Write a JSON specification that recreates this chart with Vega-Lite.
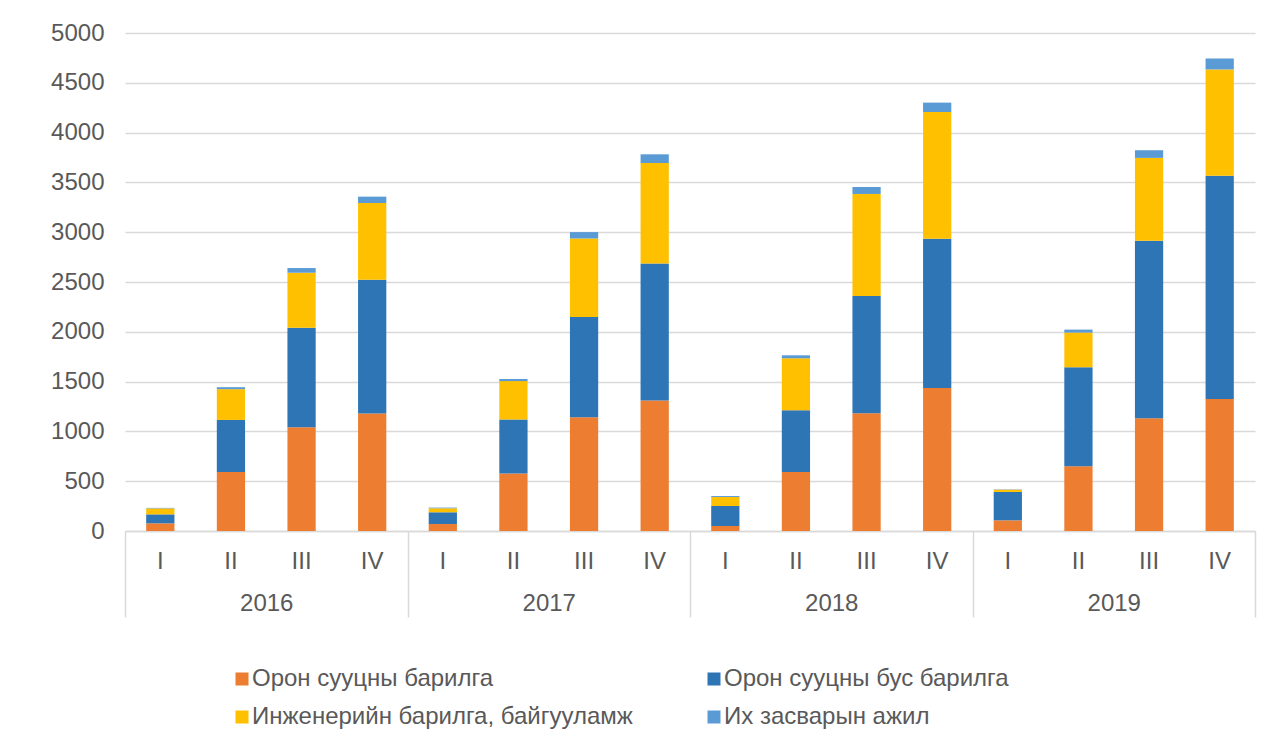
{
  "$schema": "https://vega.github.io/schema/vega-lite/v6.json",
  "autosize": {"type": "none"},
  "width": 1130,
  "height": 498,
  "padding": {"left": 125, "top": 33, "right": 17, "bottom": 221},
  "background": "white",
  "config": {
    "font": "Liberation Sans",
    "view": {"stroke": null},
    "axis": {"labelFont": "Liberation Sans", "labelColor": "#595959", "labelFontSize": 24}
  },
  "data": {
    "values": [
      {"key": "2016 I", "year": "2016", "k": 1, "type": "Орон сууцны барилга", "value": 77},
      {"key": "2016 I", "year": "2016", "k": 2, "type": "Орон сууцны бус барилга", "value": 90},
      {"key": "2016 I", "year": "2016", "k": 3, "type": "Инженерийн барилга, байгууламж", "value": 60},
      {"key": "2016 I", "year": "2016", "k": 4, "type": "Их засварын ажил", "value": 5},
      {"key": "2016 II", "year": "2016", "k": 1, "type": "Орон сууцны барилга", "value": 593},
      {"key": "2016 II", "year": "2016", "k": 2, "type": "Орон сууцны бус барилга", "value": 522},
      {"key": "2016 II", "year": "2016", "k": 3, "type": "Инженерийн барилга, байгууламж", "value": 309},
      {"key": "2016 II", "year": "2016", "k": 4, "type": "Их засварын ажил", "value": 20},
      {"key": "2016 III", "year": "2016", "k": 1, "type": "Орон сууцны барилга", "value": 1042},
      {"key": "2016 III", "year": "2016", "k": 2, "type": "Орон сууцны бус барилга", "value": 998},
      {"key": "2016 III", "year": "2016", "k": 3, "type": "Инженерийн барилга, байгууламж", "value": 553},
      {"key": "2016 III", "year": "2016", "k": 4, "type": "Их засварын ажил", "value": 47},
      {"key": "2016 IV", "year": "2016", "k": 1, "type": "Орон сууцны барилга", "value": 1179},
      {"key": "2016 IV", "year": "2016", "k": 2, "type": "Орон сууцны бус барилга", "value": 1344},
      {"key": "2016 IV", "year": "2016", "k": 3, "type": "Инженерийн барилга, байгууламж", "value": 770},
      {"key": "2016 IV", "year": "2016", "k": 4, "type": "Их засварын ажил", "value": 64},
      {"key": "2017 I", "year": "2017", "k": 1, "type": "Орон сууцны барилга", "value": 70},
      {"key": "2017 I", "year": "2017", "k": 2, "type": "Орон сууцны бус барилга", "value": 118},
      {"key": "2017 I", "year": "2017", "k": 3, "type": "Инженерийн барилга, байгууламж", "value": 40},
      {"key": "2017 I", "year": "2017", "k": 4, "type": "Их засварын ажил", "value": 7},
      {"key": "2017 II", "year": "2017", "k": 1, "type": "Орон сууцны барилга", "value": 577},
      {"key": "2017 II", "year": "2017", "k": 2, "type": "Орон сууцны бус барилга", "value": 543},
      {"key": "2017 II", "year": "2017", "k": 3, "type": "Инженерийн барилга, байгууламж", "value": 385},
      {"key": "2017 II", "year": "2017", "k": 4, "type": "Их засварын ажил", "value": 21},
      {"key": "2017 III", "year": "2017", "k": 1, "type": "Орон сууцны барилга", "value": 1143},
      {"key": "2017 III", "year": "2017", "k": 2, "type": "Орон сууцны бус барилга", "value": 1006},
      {"key": "2017 III", "year": "2017", "k": 3, "type": "Инженерийн барилга, байгууламж", "value": 788},
      {"key": "2017 III", "year": "2017", "k": 4, "type": "Их засварын ажил", "value": 64},
      {"key": "2017 IV", "year": "2017", "k": 1, "type": "Орон сууцны барилга", "value": 1311},
      {"key": "2017 IV", "year": "2017", "k": 2, "type": "Орон сууцны бус барилга", "value": 1375},
      {"key": "2017 IV", "year": "2017", "k": 3, "type": "Инженерийн барилга, байгууламж", "value": 1009},
      {"key": "2017 IV", "year": "2017", "k": 4, "type": "Их засварын ажил", "value": 87},
      {"key": "2018 I", "year": "2018", "k": 1, "type": "Орон сууцны барилга", "value": 50},
      {"key": "2018 I", "year": "2018", "k": 2, "type": "Орон сууцны бус барилга", "value": 201},
      {"key": "2018 I", "year": "2018", "k": 3, "type": "Инженерийн барилга, байгууламж", "value": 90},
      {"key": "2018 I", "year": "2018", "k": 4, "type": "Их засварын ажил", "value": 10},
      {"key": "2018 II", "year": "2018", "k": 1, "type": "Орон сууцны барилга", "value": 592},
      {"key": "2018 II", "year": "2018", "k": 2, "type": "Орон сууцны бус барилга", "value": 620},
      {"key": "2018 II", "year": "2018", "k": 3, "type": "Инженерийн барилга, байгууламж", "value": 522},
      {"key": "2018 II", "year": "2018", "k": 4, "type": "Их засварын ажил", "value": 30},
      {"key": "2018 III", "year": "2018", "k": 1, "type": "Орон сууцны барилга", "value": 1181},
      {"key": "2018 III", "year": "2018", "k": 2, "type": "Орон сууцны бус барилга", "value": 1179},
      {"key": "2018 III", "year": "2018", "k": 3, "type": "Инженерийн барилга, байгууламж", "value": 1024},
      {"key": "2018 III", "year": "2018", "k": 4, "type": "Их засварын ажил", "value": 70},
      {"key": "2018 IV", "year": "2018", "k": 1, "type": "Орон сууцны барилга", "value": 1436},
      {"key": "2018 IV", "year": "2018", "k": 2, "type": "Орон сууцны бус барилга", "value": 1499},
      {"key": "2018 IV", "year": "2018", "k": 3, "type": "Инженерийн барилга, байгууламж", "value": 1272},
      {"key": "2018 IV", "year": "2018", "k": 4, "type": "Их засварын ажил", "value": 94},
      {"key": "2019 I", "year": "2019", "k": 1, "type": "Орон сууцны барилга", "value": 107},
      {"key": "2019 I", "year": "2019", "k": 2, "type": "Орон сууцны бус барилга", "value": 285},
      {"key": "2019 I", "year": "2019", "k": 3, "type": "Инженерийн барилга, байгууламж", "value": 23},
      {"key": "2019 I", "year": "2019", "k": 4, "type": "Их засварын ажил", "value": 3},
      {"key": "2019 II", "year": "2019", "k": 1, "type": "Орон сууцны барилга", "value": 650},
      {"key": "2019 II", "year": "2019", "k": 2, "type": "Орон сууцны бус барилга", "value": 994},
      {"key": "2019 II", "year": "2019", "k": 3, "type": "Инженерийн барилга, байгууламж", "value": 348},
      {"key": "2019 II", "year": "2019", "k": 4, "type": "Их засварын ажил", "value": 30},
      {"key": "2019 III", "year": "2019", "k": 1, "type": "Орон сууцны барилга", "value": 1132},
      {"key": "2019 III", "year": "2019", "k": 2, "type": "Орон сууцны бус барилга", "value": 1781},
      {"key": "2019 III", "year": "2019", "k": 3, "type": "Инженерийн барилга, байгууламж", "value": 833},
      {"key": "2019 III", "year": "2019", "k": 4, "type": "Их засварын ажил", "value": 77},
      {"key": "2019 IV", "year": "2019", "k": 1, "type": "Орон сууцны барилга", "value": 1326},
      {"key": "2019 IV", "year": "2019", "k": 2, "type": "Орон сууцны бус барилга", "value": 2240},
      {"key": "2019 IV", "year": "2019", "k": 3, "type": "Инженерийн барилга, байгууламж", "value": 1068},
      {"key": "2019 IV", "year": "2019", "k": 4, "type": "Их засварын ажил", "value": 110}
    ]
  },
  "layer": [
    {
      "mark": {"type": "bar"},
      "encoding": {
        "x": {
          "field": "key",
          "type": "nominal",
          "sort": null,
          "scale": {"paddingInner": 0.6, "paddingOuter": 0.3},
          "axis": {
            "title": null,
            "orient": "bottom",
            "labelAngle": 0,
            "labelExpr": "split(datum.label, ' ')[1]",
            "ticks": false,
            "domain": true,
            "domainColor": "#d9d9d9",
            "domainWidth": 1.5,
            "labelPadding": 18,
            "labelBaseline": "top",
            "grid": false
          }
        },
        "y": {
          "field": "value",
          "type": "quantitative",
          "stack": "zero",
          "scale": {"domain": [0, 5000], "nice": false},
          "axis": {
            "title": null,
            "format": "d",
            "values": [0, 500, 1000, 1500, 2000, 2500, 3000, 3500, 4000, 4500, 5000],
            "domain": false,
            "ticks": false,
            "labelPadding": 21,
            "grid": true,
            "gridColor": "#d9d9d9",
            "gridWidth": 1.3
          }
        },
        "color": {
          "field": "type",
          "type": "nominal",
          "sort": ["Орон сууцны барилга", "Орон сууцны бус барилга", "Инженерийн барилга, байгууламж", "Их засварын ажил"],
          "scale": {
            "domain": ["Орон сууцны барилга", "Орон сууцны бус барилга", "Инженерийн барилга, байгууламж", "Их засварын ажил"],
            "range": ["#ED7D31", "#2E75B6", "#FFC000", "#5B9BD5"]
          },
          "legend": {
            "title": null,
            "orient": "none",
            "direction": "horizontal",
            "legendX": 105,
            "legendY": 634,
            "columns": 2,
            "columnPadding": 69,
            "rowPadding": 14,
            "padding": 0,
            "symbolType": "square",
            "symbolSize": 169,
            "symbolStrokeWidth": 0,
            "labelFont": "Liberation Sans",
            "labelFontSize": 24,
            "labelColor": "#595959",
            "labelOffset": -2,
            "labelLimit": 600
          }
        },
        "order": {"field": "k", "type": "quantitative", "sort": "ascending"}
      }
    },
    {
      "mark": {"type": "rule", "opacity": 0},
      "encoding": {
        "x": {
          "field": "year",
          "type": "nominal",
          "scale": {"paddingInner": 0, "paddingOuter": 0},
          "axis": {
            "title": null,
            "orient": "bottom",
            "labelAngle": 0,
            "domain": false,
            "ticks": true,
            "tickBand": "extent",
            "tickSize": 86,
            "tickColor": "#d9d9d9",
            "tickWidth": 1.5,
            "labelPadding": -26,
            "labelBaseline": "top",
            "grid": false
          }
        }
      }
    }
  ],
  "resolve": {"scale": {"x": "independent"}, "axis": {"x": "independent"}}
}
